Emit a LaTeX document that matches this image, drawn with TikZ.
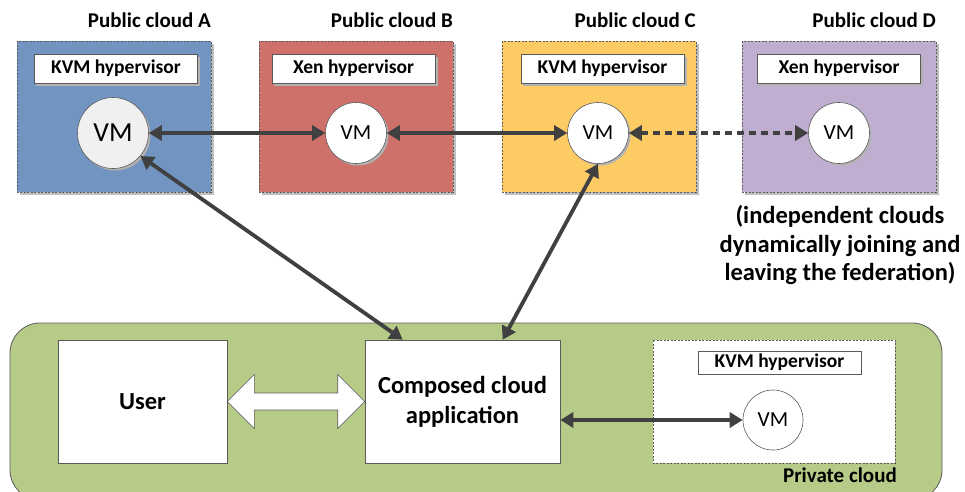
\documentclass[tikz,border=0pt]{standalone}
\usepackage{fontspec}
\setmainfont{Carlito}
\usetikzlibrary{arrows.meta,calc}
\definecolor{cloudA}{RGB}{114,148,192}
\definecolor{cloudB}{RGB}{205,113,106}
\definecolor{cloudC}{RGB}{253,203,100}
\definecolor{cloudD}{RGB}{191,174,208}
\definecolor{privgreen}{RGB}{182,203,136}
\definecolor{linkgray}{RGB}{64,64,64}
\definecolor{edgegray}{RGB}{90,90,90}
\tikzset{
  x=1pt, y=-1pt,
  cloudbox/.style={draw=edgegray, dashed, line width=0.6pt, dash pattern=on 2pt off 1.5pt},
  hyperbox/.style={draw=edgegray, fill=white, line width=0.6pt, minimum width=163pt, minimum height=29pt,
    font=\bfseries\fontsize{19.5}{22}\selectfont, inner sep=0pt},
  vmnode/.style={circle, draw=edgegray, fill=white, line width=0.6pt, minimum size=61pt, inner sep=0pt,
    font=\fontsize{21.5}{24}\selectfont},
  titletext/.style={font=\bfseries\fontsize{21}{24}\selectfont, anchor=east, inner sep=0pt},
  link/.style={draw=linkgray, line width=3.8pt, {Triangle[length=13pt,width=15pt]}-{Triangle[length=13pt,width=15pt]}},
  appbox/.style={draw=edgegray, fill=white, line width=0.6pt, inner sep=0pt, align=center,
    font=\bfseries\fontsize{24.5}{30}\selectfont},
}
\begin{document}
\begin{tikzpicture}
\useasboundingbox (0,0) rectangle (965,491);

% ---- public clouds ----
\foreach \nm/\xa/\xb/\col/\lab in {A/17/211/cloudA/A, B/259/453/cloudB/B, C/502/696/cloudC/C, D/742/936/cloudD/D}{
  \fill[black!25] (\xa+3,44) rectangle (\xb+3,195);
  \fill[\col] (\xa,41) rectangle (\xb,192);
  \draw[cloudbox] (\xa,41) rectangle (\xb,192);
  \node[titletext] (title\nm) at (\xb,20) {Public cloud \lab};
}

% hypervisor labels (with a light shadow)
\foreach \nm/\cx/\lab in {A/116/KVM hypervisor, B/353.5/Xen hypervisor, C/602.5/KVM hypervisor, D/839/Xen hypervisor}{
  \fill[black!30] (\cx-80,57) rectangle (\cx+84,86);
  \node[hyperbox] (hyp\nm) at (\cx,68.5) {\lab};
}

% virtual machines
\fill[black!30] (115,135) circle (35.5);
\node[vmnode, fill=black!6, minimum size=71pt, font=\fontsize{27.5}{30}\selectfont] (vmA) at (113,133) {VM};
\foreach \nm/\cx in {B/356, C/598, D/839}{
  \fill[black!30] (\cx+2,135) circle (30.5);
  \node[vmnode] (vm\nm) at (\cx,133) {VM};
}

% explanatory note
\node[font=\bfseries\fontsize{24.5}{28.5}\selectfont, align=center, inner sep=0pt] (note) at (840,245)
  {(independent clouds\\dynamically joining and\\leaving the federation)};

% ---- private cloud ----
\draw[fill=privgreen, draw=edgegray, line width=0.8pt, rounded corners=30pt] (10,323) rectangle (942,500);
\node[font=\bfseries\fontsize{21}{24}\selectfont, anchor=east, inner sep=0pt] (privlabel) at (897,475) {Private cloud};

\node[appbox, minimum width=169pt, minimum height=123pt] (user) at (142.5,401.5) {User};
\node[appbox, minimum width=195pt, minimum height=123pt] (app) at (462.5,401.5) {Composed cloud\\application};

\fill[white] (653,340) rectangle (895,463);
\draw[cloudbox] (653,340) rectangle (895,463);
\node[hyperbox, minimum width=163pt, minimum height=23pt] (hypP) at (779.5,362.5) {KVM hypervisor};
\node[vmnode, minimum size=60pt] (vmP) at (773,420) {VM};

% wide double arrow between user and application
\coordinate (ul) at (user.east);
\coordinate (ar) at (app.west);
\draw[fill=white, draw=edgegray, line width=0.6pt]
  (ul) -- ++(27,-27) -- ++(0,18.5) -- ($(ar)+(-27,-8.5)$) -- ++(0,-18.5) -- (ar)
  -- ++(-27,27) -- ++(0,-18.5) -- ($(ul)+(27,8.5)$) -- ++(0,18.5) -- cycle;

% ---- connectors ----
\draw[link] (vmA) -- (vmB);
\draw[link] (vmB) -- (vmC);
\draw[link, dash pattern=on 7pt off 5pt] (vmC) -- (vmD);
\draw[link] (vmA.-40) -- ($(app.north west)+(38,0)$) coordinate (appTopL);
\draw[link] (vmC.-90) -- ($(app.north west)+(138,0)$) coordinate (appTopR);
\draw[link] (app.east |- vmP) -- (vmP);
\end{tikzpicture}
\end{document}
